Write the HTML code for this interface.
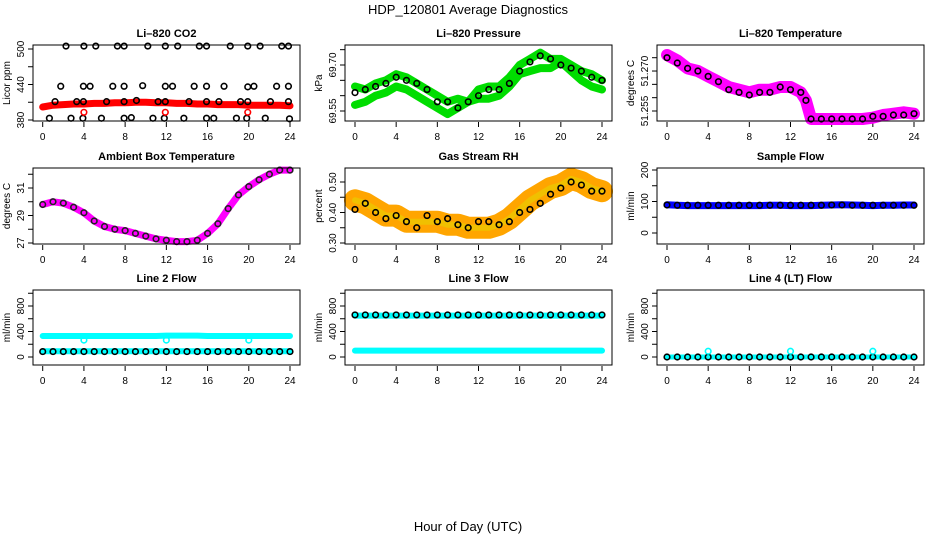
<!DOCTYPE html>
<html><head><meta charset="utf-8"><style>
html,body{margin:0;padding:0;background:#fff;}
svg text{font-family:"Liberation Sans",sans-serif;}
</style></head><body>
<svg id="c" width="936" height="540" viewBox="0 0 936 540" xmlns="http://www.w3.org/2000/svg">
<rect width="936" height="540" fill="#fff"/>
<text x="468" y="14" text-anchor="middle" font-size="13">HDP_120801  Average Diagnostics</text>
<text x="468" y="531" text-anchor="middle" font-size="13">Hour of Day (UTC)</text>
</svg>
<script>
const HOURS=[0,1,2,3,4,5,6,7,8,9,10,11,12,13,14,15,16,17,18,19,20,21,22,23,24];
const XTICKS=[0,4,8,12,16,20,24];
// CO2
const co2Red=[402,405,406,407,407,408,408,409,409,410,410,409,409,408,408,407,407,406,406,406,405,405,405,405,404];
const co2BlackH=[2.26,4.0,5.15,7.25,7.9,10.2,11.9,13.1,15.2,15.9,18.2,19.9,21.1,23.2,23.85,1.75,3.95,4.6,6.8,7.9,9.7,11.9,12.6,14.7,15.9,17.6,19.9,20.5,22.7,23.85,1.2,3.3,3.95,6.2,7.9,9.1,11.2,11.9,14.2,15.9,17.1,19.2,19.9,22.1,23.85,0.65,2.75,3.9,5.7,7.9,8.6,10.7,11.8,13.7,15.9,16.6,18.8,19.8,21.6,23.95];
const co2BlackV=[505,505,505,505,505,505,505,505,505,505,505,505,505,505,505,437,437,437,437,437,438,437,437,437,437,437,436,437,437,437,411,411,411,411,411,413,411,411,411,411,411,411,411,411,411,383,383,383,383,383,384,383,383,383,383,383,383,383,383,382];
const co2RedH=[4.0,11.9,19.9];
const co2RedV=[393,393,393];
// Pressure
const presUpper=[69.63,69.62,69.64,69.65,69.67,69.66,69.64,69.62,69.60,69.58,69.59,69.58,69.62,69.63,69.63,69.66,69.70,69.72,69.74,69.72,69.72,69.70,69.68,69.67,69.65];
const presLower=[69.57,69.58,69.60,69.61,69.63,69.62,69.60,69.58,69.56,69.54,69.56,69.58,69.59,69.59,69.60,69.63,69.67,69.68,69.69,69.69,69.71,69.68,69.65,69.63,69.62];
const presBlack=[69.61,69.62,69.63,69.64,69.66,69.65,69.64,69.62,69.58,69.58,69.56,69.58,69.60,69.62,69.62,69.64,69.68,69.71,69.73,69.72,69.70,69.69,69.68,69.66,69.65];
// Li-820 temp
const ltH=[0,1,2,3,4,5,6,7,8,9,10,11,12,13,13.5,14,15,16,17,18,19,20,21,22,23,24];
const ltMag=[51.276,51.274,51.271,51.270,51.268,51.266,51.264,51.263,51.262,51.263,51.263,51.264,51.264,51.262,51.259,51.252,51.252,51.252,51.252,51.252,51.252,51.2525,51.2535,51.254,51.2545,51.254];
const ltBlack=[51.275,51.273,51.271,51.270,51.268,51.266,51.263,51.262,51.261,51.262,51.262,51.264,51.263,51.262,51.259,51.252,51.252,51.252,51.252,51.252,51.252,51.253,51.253,51.2535,51.2535,51.254];
// Ambient
const ambT=[29.8,30.0,29.9,29.6,29.2,28.6,28.2,28.0,27.9,27.7,27.5,27.3,27.2,27.1,27.1,27.2,27.7,28.4,29.5,30.5,31.1,31.6,32.0,32.3,32.3];
// RH
const rhBand=[0.44,0.43,0.41,0.39,0.39,0.37,0.37,0.37,0.37,0.36,0.36,0.35,0.35,0.35,0.36,0.38,0.41,0.44,0.46,0.48,0.49,0.51,0.50,0.48,0.47];
const rhBlack=[0.41,0.43,0.40,0.38,0.39,0.37,0.35,0.39,0.37,0.38,0.36,0.35,0.37,0.37,0.36,0.37,0.40,0.41,0.43,0.46,0.48,0.50,0.49,0.47,0.47];
// Sample flow
const sfBlue=[90,88,87,87,87,87,87,87,87,87,88,88,87,87,87,88,89,90,89,88,87,88,88,89,89];
const sfBlack=[89,88,88,88,88,88,88,88,88,88,88,88,88,88,88,88,89,89,88,88,88,88,88,88,88];
// Line flows
const l2Upper=[330,330,330,330,330,330,330,330,330,330,330,330,335,335,335,335,330,330,330,330,330,330,330,330,330];
const l2Lower=[90,90,90,90,90,90,90,90,90,90,90,90,90,90,90,90,90,90,90,90,90,90,90,90,90];
const l2Black=[85,85,85,85,85,85,85,85,85,85,85,85,85,85,85,85,85,85,85,85,85,85,85,85,85];
const l2DipH=[4,12,20];
const l2DipV=[265,265,265];
const l3Upper=[650,650,650,650,650,650,650,650,650,650,650,650,650,650,650,650,650,650,650,650,650,650,650,650,650];
const l3Lower=[100,100,100,100,100,100,100,100,100,100,100,100,100,100,100,100,100,100,100,100,100,100,100,100,100];
const l3Black=[660,660,660,660,660,660,660,660,660,660,660,660,660,660,660,660,660,660,660,660,660,660,660,660,660];
const l4Cyan=[0,0,0,0,0,0,0,0,0,0,0,0,0,0,0,0,0,0,0,0,0,0,0,0,0];
const l4Black=[0,0,0,0,0,0,0,0,0,0,0,0,0,0,0,0,0,0,0,0,0,0,0,0,0];
const l4SpikeH=[4,12,20];
const l4SpikeV=[90,90,90];

const NS='http://www.w3.org/2000/svg';
const svg=document.getElementById('c');
function mk(tag,at,parent){const e=document.createElementNS(NS,tag);for(const k in at)e.setAttribute(k,at[k]);(parent||svg).appendChild(e);return e;}

function panel(key,title,ytitle,bx,by,bw,bh,x0,x24,yv1,yp1,yv2,yp2,yticks,ylabels){
  const g=mk('g',{});
  
  
  const sx=h=>x0+h*(x24-x0)/24;
  const sy=v=>yp1+(v-yv1)*(yp2-yp1)/(yv2-yv1);
  const t=mk('text',{x:bx+bw/2,y:by-8,'text-anchor':'middle','font-size':11,'font-weight':'bold'},g);
  t.textContent=title;
  
  
  const xa=mk('g',{},g);
  
  
  XTICKS.forEach(h=>{
    mk('line',{x1:sx(h),x2:sx(h),y1:by+bh+1,y2:by+bh+6,stroke:'#000','stroke-width':1},xa);
    const l=mk('text',{x:sx(h),y:by+bh+19,'text-anchor':'middle','font-size':10},xa);l.textContent=h;
  });
  const ya=mk('g',{},g);
  
  
  yticks.forEach((v,i)=>{
    const y=sy(v);
    mk('line',{x1:bx-5,x2:bx,y1:y,y2:y,stroke:'#000','stroke-width':1},ya);
    if(ylabels[i]!==''){const l=mk('text',{x:bx-9,y:y,'text-anchor':'middle','font-size':10,transform:`rotate(-90 ${bx-9} ${y})`},ya);l.textContent=ylabels[i];}
  });
  const yt=mk('text',{x:bx-23,y:by+bh/2,'text-anchor':'middle','font-size':10,transform:`rotate(-90 ${bx-23} ${by+bh/2})`},g);
  yt.textContent=ytitle;
  
  
  const plot=mk('g',{},g);
  
  
  const box=mk('rect',{x:bx,y:by,width:bw,height:bh,fill:'none',stroke:'#000','stroke-width':1},g);
  
  
  return {sx,sy,plot};
}
function band(p,hs,vs,color,w,name){
  const d=hs.map((h,i)=>(i?'L':'M')+p.sx(h).toFixed(1)+','+p.sy(vs[i]).toFixed(1)).join('');
  const e=mk('path',{d:d,fill:'none',stroke:color,'stroke-width':w,'stroke-linecap':'round','stroke-linejoin':'round'},p.plot);
  
  
}
function pts(p,hs,vs,color,name,r){
  const g=mk('g',{},p.plot);
  
  
  hs.forEach((h,i)=>{mk('circle',{cx:p.sx(h),cy:p.sy(vs[i]),r:r||2.8,fill:'none',stroke:color,'stroke-width':1.6},g);});
}

// Row 1
let p=panel('co2','Li\u2013820 CO2','Licor ppm',33,45,267,76,42.7,290,380,120,500,49,[380,410,440,470,500],['380','','440','','500']);
band(p,HOURS,co2Red,'#ff0000',7,'co2-red-series');
pts(p,co2BlackH,co2BlackV,'#000','co2-black-points');
pts(p,co2RedH,co2RedV,'#ff0000','co2-red-points');

p=panel('pressure','Li\u2013820 Pressure','kPa',345,45,267,76,355,602,69.55,111,69.70,65,[69.55,69.60,69.65,69.70,69.75],['69.55','','','69.70','']);
band(p,HOURS,presUpper,'#00dd00',8,'pressure-upper-band');
band(p,HOURS,presLower,'#00dd00',8,'pressure-lower-band');
pts(p,HOURS,presBlack,'#000','pressure-black-points');

p=panel('li820-temp','Li\u2013820 Temperature','degrees C',657,45,267,76,667,914,51.255,111,51.275,57.7,[51.255,51.260,51.265,51.270,51.275],['51.255','','','51.270','']);
band(p,ltH,ltMag,'#ff00ff',12,'li820-temp-band');
pts(p,ltH,ltBlack,'#000','li820-temp-black-points');

// Row 2
p=panel('ambient','Ambient Box Temperature','degrees C',33,168,267,76,42.7,290,27,243,31,188,[27,28,29,30,31,32],['27','','29','','31','']);
band(p,HOURS,ambT,'#ff00ff',7,'ambient-band');
pts(p,HOURS,ambT,'#222','ambient-black-points');

p=panel('rh','Gas Stream RH','percent',345,168,267,76,355,602,0.30,243,0.50,182,[0.30,0.35,0.40,0.45,0.50],['0.30','','0.40','','0.50']);
band(p,HOURS,rhBand,'#ffa500',22,'rh-orange-band');
band(p,HOURS,rhBand,'#f0c000',6,'rh-yellow-texture');
pts(p,HOURS,rhBlack,'#000','rh-black-points');

p=panel('sample-flow','Sample Flow','ml/min',657,168,267,76,667,914,0,233,200,170,[0,50,100,150,200],['0','','100','','200']);
band(p,HOURS,sfBlue,'#0000ff',7,'sample-flow-band');
pts(p,HOURS,sfBlack,'#000','sample-flow-black-points');

// Row 3
const fTicks=[0,200,400,600,800,1000], fLab=['0','','400','','800',''];
p=panel('line2','Line 2 Flow','ml/min',33,290,267,75,42.7,290,0,357,800,306,fTicks,fLab);
band(p,HOURS,l2Upper,'#00ffff',6,'line2-upper-band');
band(p,HOURS,l2Lower,'#00ffff',6,'line2-lower-band');
pts(p,HOURS,l2Black,'#000','line2-black-points');
pts(p,l2DipH,l2DipV,'#00ffff','line2-dip-points');

p=panel('line3','Line 3 Flow','ml/min',345,290,267,75,355,602,0,357,800,306,fTicks,fLab);
band(p,HOURS,l3Upper,'#00ffff',6,'line3-upper-band');
band(p,HOURS,l3Lower,'#00ffff',6,'line3-lower-band');
pts(p,HOURS,l3Black,'#000','line3-black-points');

p=panel('line4','Line 4 (LT) Flow','ml/min',657,290,267,75,667,914,0,357,800,306,fTicks,fLab);
band(p,HOURS,l4Cyan,'#00ffff',5,'line4-cyan-band');
pts(p,HOURS,l4Black,'#000','line4-black-points');
pts(p,l4SpikeH,l4SpikeV,'#00ffff','line4-spike-points');
</script>
</body></html>
